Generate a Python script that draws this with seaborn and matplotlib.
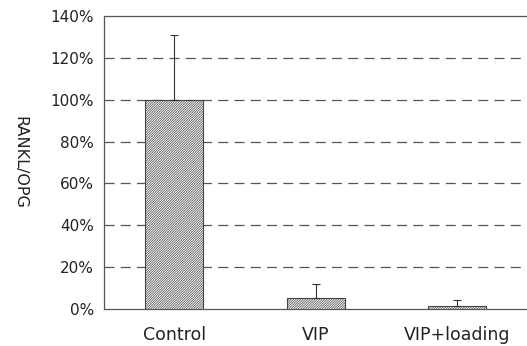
import seaborn as sns
import matplotlib.pyplot as plt
import pandas as pd

# Data
groups = ["Control", "VIP", "VIP+loading"]
ratio = [100, 5.3, 1.5]
err_up = [31, 6.6, 2.7]

df = pd.DataFrame({"group": groups, "ratio": ratio})

sns.set_style("white")
plt.rcParams["font.family"] = ["DejaVu Sans"]
plt.rcParams["hatch.linewidth"] = 0.5
plt.rcParams["hatch.color"] = "#555555"

fig = plt.figure(figsize=(5.27, 3.46), dpi=100)
ax = fig.add_axes([0.197, 0.107, 0.809, 0.847])

sns.barplot(data=df, x="group", y="ratio", color="white", width=0.41,
            edgecolor="#444444", linewidth=0.8, hatch="//////////////", ax=ax, zorder=3)

ax.errorbar(range(len(groups)), ratio, yerr=[[0] * 3, err_up], fmt="none",
            ecolor="#333333", elinewidth=0.8, capsize=3, capthick=0.8, zorder=4)

ax.set_ylim(0, 140)
ax.set_xlim(-0.5, 2.52)
ax.set_yticks(range(0, 141, 20))
ax.set_yticklabels([f"{v}%" for v in range(0, 141, 20)], fontsize=11, color="#222222")
ax.set_xticks(range(3))
ax.set_xticklabels(groups, fontsize=12.5, color="#222222")
ax.tick_params(axis="x", length=0, pad=12)
ax.tick_params(axis="y", direction="out", length=4, width=0.8, color="#555555", pad=3)
ax.set_xticks([0.5, 1.5], minor=True)
ax.tick_params(axis="x", which="minor", direction="in", length=4, width=0.8, color="#444444")

for v in range(20, 140, 20):
    ax.axhline(v, color="#555555", lw=0.9, ls=(0, (8, 5)), zorder=1)

ax.set_xlabel("")
ax.set_ylabel("RANKL/OPG", rotation=270, fontsize=11.5, color="#222222")
ax.yaxis.set_label_coords(-0.215, 0.5)

for s in ["left", "bottom", "top"]:
    ax.spines[s].set_color("#555555")
    ax.spines[s].set_linewidth(0.9)
ax.spines["right"].set_visible(False)

fig.savefig("out.png", dpi=100)
